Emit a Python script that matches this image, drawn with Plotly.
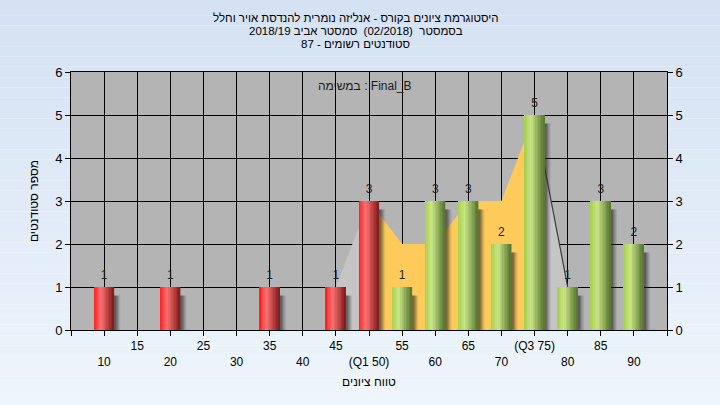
import numpy as np
import plotly.graph_objects as go

# ---------------- data ----------------
categories = [10, 15, 20, 25, 30, 35, 40, 45, 50, 55, 60, 65, 70, 75, 80, 85, 90]
counts     = [1, 0, 1, 0, 0, 1, 0, 1, 3, 1, 3, 3, 2, 5, 1, 3, 2]
low_group_max = 50          # bars up to Q1 drawn red, above drawn green
area_x = [45, 50, 55, 60, 65, 70, 75, 80]
area_y = [1, 3, 2, 2, 3, 3, 5, 1]
q1, q3 = 50, 75
tick_values = [5, 10, 15, 20, 25, 30, 35, 40, 45, 50, 55, 60, 65, 70, 75, 80, 85, 90, 95]
tick_labels = ["", "10", "15", "20", "25", "30", "35", "40", "45", "(Q1 50)", "55", "60",
               "65", "70", "(Q3 75)", "80", "85", "90", ""]
title_lines = ["היסטוגרמת ציונים בקורס - אנליזה נומרית להנדסת אויר וחלל",
               "בסמסטר\u00a0\u00a0(02/2018)\u00a0\u00a0סמסטר אביב 2018/19",
               "סטודנטים רשומים - 87"]
task_label = "במשימה : Final_B"
x_title = "טווח ציונים"
y_title = "מספר סטודנטים"

FONT = "Liberation Sans, Arial, sans-serif"
BAR_W = 3.0

fig = go.Figure()

# ---------------- background gradient ----------------
top_c = np.array([212, 226, 243])
bot_c = np.array([238, 245, 252])
n_bands = 40
for i in range(n_bands):
    t = i / (n_bands - 1)
    c = (top_c * (1 - t) + bot_c * t).astype(int)
    fig.add_shape(type="rect", xref="paper", yref="paper", layer="below",
                  x0=-0.2, x1=1.2, y0=1.3 - (i + 1) * 1.6 / n_bands, y1=1.3 - i * 1.6 / n_bands,
                  line_width=0, fillcolor=f"rgb({c[0]},{c[1]},{c[2]})")
# plot area background
fig.add_shape(type="rect", xref="x domain", yref="y domain", layer="below",
              x0=0, x1=1, y0=0, y1=1, line_width=0, fillcolor="#b4b4b4")

# ---------------- area (distribution) drawn between grid and bars ----------------
def area_path(xs, ys):
    pts = [f"M {xs[0]} 0"] + [f"L {x} {y}" for x, y in zip(xs, ys)] + [f"L {xs[-1]} 0 Z"]
    return " ".join(pts)

ax = list(area_x); ay = list(area_y)
seg_left = [(x, y) for x, y in zip(ax, ay) if x <= q1]
seg_mid = [(x, y) for x, y in zip(ax, ay) if q1 <= x <= q3]
seg_right = [(x, y) for x, y in zip(ax, ay) if x >= q3]
for seg, fillc in [(seg_left, "#c5c5c5"), (seg_right, "#c5c5c5"), (seg_mid, "#fecb5a")]:
    xs, ys = zip(*seg)
    fig.add_shape(type="path", xref="x", yref="y", layer="between",
                  path=area_path(xs, ys), fillcolor=fillc, line_width=0)
# dark outline on the descending right part
xs, ys = zip(*seg_right)
fig.add_shape(type="path", xref="x", yref="y", layer="between",
              path="M " + " L ".join(f"{x} {y}" for x, y in zip(xs, ys)),
              line=dict(color="#3a3a3a", width=1.2))

# ---------------- bars ----------------
cats = np.array(categories); vals = np.array(counts)
nz = vals > 0
bx = cats[nz]; by = vals[nz]

# soft shadows
for off, alpha in [(0.95, 0.10), (0.75, 0.16), (0.55, 0.24), (0.35, 0.32)]:
    fig.add_trace(go.Bar(x=bx + off, y=by - 0.14, base=-0.06, width=BAR_W,
                         marker=dict(color=f"rgba(40,40,40,{alpha})", line_width=0),
                         hoverinfo="skip", showlegend=False, cliponaxis=False))


def cyl(c_left, c_hi, c_right, t):
    c_left, c_hi, c_right = map(np.array, (c_left, c_hi, c_right))
    if t < 0.35:
        s = t / 0.35
        c = c_left * (1 - s) + c_hi * s
    else:
        s = (t - 0.35) / 0.65
        c = c_hi * (1 - s) + c_right * s
    c = c.astype(int)
    return f"rgb({c[0]},{c[1]},{c[2]})"


n_strips = 14
sw = BAR_W / n_strips
for k in range(n_strips):
    t = (k + 0.5) / n_strips
    off = -BAR_W / 2 + k * sw
    red = cyl((255, 28, 28), (255, 115, 115), (128, 26, 26), t)
    green = cyl((166, 208, 76), (202, 230, 135), (86, 116, 48), t)
    colors = [red if c <= low_group_max else green for c in bx]
    fig.add_trace(go.Bar(x=bx, y=by, width=sw * 1.08, offset=off,
                         marker=dict(color=colors, line_width=0),
                         hoverinfo="skip", showlegend=False))

# value labels
fig.add_trace(go.Scatter(x=bx, y=by, mode="markers+text", text=[str(v) for v in by],
                         textposition="top center",
                         marker=dict(size=6, opacity=0),
                         textfont=dict(family=FONT, size=12, color="#1e1e1e"),
                         hoverinfo="skip", showlegend=False))

# dummy trace for right axis
fig.add_trace(go.Scatter(x=[None], y=[None], yaxis="y2", showlegend=False))

# ---------------- layout ----------------
tick_text = []
for v, lab in zip(tick_values, tick_labels):
    tick_text.append(" <br>" + lab if v % 10 == 0 else lab)

fig.update_layout(
    width=720, height=405,
    margin=dict(l=71, r=53, t=72, b=75),
    paper_bgcolor="rgba(0,0,0,0)",
    plot_bgcolor="rgba(0,0,0,0)",
    barmode="overlay",
    font=dict(family=FONT, size=12, color="#000000"),
    xaxis=dict(range=[5, 95], tickvals=tick_values, ticktext=tick_text,
               ticks="outside", ticklen=5, tickcolor="#000", tickwidth=1,
               showgrid=True, gridcolor="#000000", gridwidth=1,
               showline=True, linecolor="#000", linewidth=1, mirror=True,
               zeroline=False, tickfont=dict(size=12),
               title=dict(text=x_title, standoff=9, font=dict(size=12))),
    yaxis=dict(range=[0, 6], dtick=1, ticks="outside", ticklen=5, tickcolor="#000",
               showgrid=True, gridcolor="#000000", gridwidth=1,
               showline=True, linecolor="#000", linewidth=1, mirror=True,
               zeroline=False, tickfont=dict(size=13),
               title=dict(text=y_title, standoff=13, font=dict(size=12))),
    yaxis2=dict(range=[0, 6], dtick=1, overlaying="y", side="right", anchor="x",
                ticks="outside", ticklen=5, tickcolor="#000", showgrid=False,
                zeroline=False, tickfont=dict(size=13), showline=False),
)

plot_h = 405 - 72 - 75
for i, line in enumerate(title_lines):
    fig.add_annotation(text=line, xref="paper", yref="paper", x=0.478,
                       y=1 + (72 - (18 + 13 * i)) / plot_h,
                       xanchor="center", yanchor="middle", showarrow=False,
                       font=dict(size=11.5))

fig.add_annotation(text=task_label, xref="x", yref="paper", x=49.4, y=1,
                   yshift=-14, xanchor="center", yanchor="middle", showarrow=False,
                   font=dict(size=12, color="#1a1a1a"))

fig.write_html("out.html", config={"displayModeBar": False},
               post_script="document.body.style.margin='0';")
